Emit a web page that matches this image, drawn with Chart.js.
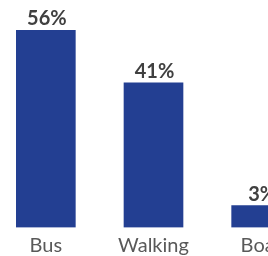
<!DOCTYPE html>
<html>
<head>
<meta charset="utf-8">
<script src="https://cdn.jsdelivr.net/npm/chart.js@4"></script>
<style>
  html, body { margin: 0; padding: 0; background: #fff; overflow: hidden; }
  .wrap { position: absolute; left: -8px; top: 0; width: 323px; height: 256px; }
</style>
</head>
<body>
<div class="wrap"><canvas class="grafico" width="323" height="256"></canvas></div>
<script>
const categorias = ["Bus", "Walking", "Boat"];
const valores = [56, 41, 3];
const etiquetas = ["56%", "41%", "3%"];

const canvas = document.querySelector('.grafico');

// dibuja el porcentaje encima de cada barra
const etiquetasPlugin = {
    id: 'etiquetas',
    afterDatasetsDraw(chart) {
        const ctx = chart.ctx;
        const meta = chart.getDatasetMeta(0);
        ctx.save();
        ctx.font = "bold 20px Lato";
        ctx.fillStyle = "#404040";
        ctx.textAlign = "center";
        ctx.textBaseline = "alphabetic";
        meta.data.forEach((bar, i) => {
            ctx.fillText(etiquetas[i], bar.x + 1, bar.y - 5);
        });
        ctx.restore();
    }
};

const config = {
    type: "bar",
    data: {
        labels: categorias,
        datasets: [{
            data: valores,
            backgroundColor: "#233f92",
            barThickness: 59,
            minBarLength: 22
        }]
    },
    options: {
        responsive: false,
        animation: false,
        layout: { padding: { top: 30, left: 0, right: 0, bottom: -7.5 } },
        plugins: {
            legend: { display: false },
            tooltip: { enabled: false }
        },
        scales: {
            x: {
                grid: { display: false, drawTicks: false },
                border: { display: false },
                ticks: {
                    color: "#595959",
                    font: { family: "Lato", size: 20 },
                    padding: 6
                }
            },
            y: {
                display: false,
                min: 0,
                max: 56
            }
        }
    },
    plugins: [etiquetasPlugin]
};

new Chart(canvas, config);
</script>
</body>
</html>
